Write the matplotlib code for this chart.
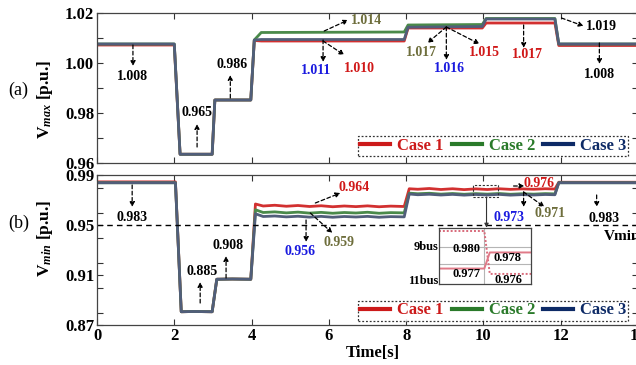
import matplotlib
matplotlib.use("Agg")
import matplotlib.pyplot as plt
from matplotlib.lines import Line2D
from matplotlib.patches import Rectangle
from matplotlib.ticker import MultipleLocator

plt.rcParams['font.family'] = ['Liberation Serif', 'DejaVu Serif']
plt.rcParams['mathtext.fontset'] = 'custom'
plt.rcParams['mathtext.it'] = 'Liberation Serif:italic:bold'
plt.rcParams['mathtext.rm'] = 'Liberation Serif:bold'
plt.rcParams['mathtext.bf'] = 'Liberation Serif:bold'

# ---------------- data ----------------
t_top = [0, 2.0, 2.15, 2.98, 3.05, 3.98, 4.07, 4.25, 7.95, 8.05, 9.97, 10.07, 11.85, 11.95, 14]
vmax_case1 = [1.0072, 1.0072, 0.9635, 0.9635, 0.9852, 0.9852, 1.0090, 1.0088, 1.0088, 1.0140, 1.0140, 1.0160, 1.0160, 1.0070, 1.0070]
vmax_case2 = [1.0076, 1.0076, 0.9635, 0.9635, 0.9852, 0.9852, 1.0092, 1.0122, 1.0124, 1.0152, 1.0154, 1.0178, 1.0178, 1.0076, 1.0076]
vmax_case3 = [1.0076, 1.0076, 0.9635, 0.9635, 0.9852, 0.9852, 1.0092, 1.0094, 1.0094, 1.0143, 1.0146, 1.0176, 1.0176, 1.0076, 1.0076]

t_bot = [0, 2.03, 2.18, 2.5, 2.98, 3.1, 3.5, 3.98,
         4.1, 4.3, 4.6, 4.9, 5.2, 5.5, 5.8, 6.1, 6.4, 6.7, 7.0, 7.3, 7.6, 7.95,
         8.08, 8.3, 8.6, 8.9, 9.2, 9.5, 9.8, 10.1, 10.4, 10.7, 11.0, 11.3, 11.6, 11.85,
         11.95, 14]
vmin_case1 = [0.9845, 0.9845, 0.8806, 0.8808, 0.8806, 0.9066, 0.9068, 0.9066,
              0.9668, 0.9652, 0.9658, 0.9650, 0.9656, 0.9648, 0.9654, 0.9646, 0.9652, 0.9647, 0.9653, 0.9646, 0.9651, 0.9648,
              0.9790, 0.9786, 0.9792, 0.9784, 0.9790, 0.9783, 0.9789, 0.9784, 0.9790, 0.9785, 0.9789, 0.9786, 0.9790, 0.9788,
              0.9842, 0.9842]
vmin_case2 = [0.9838, 0.9838, 0.8806, 0.8808, 0.8806, 0.9066, 0.9068, 0.9066,
              0.9622, 0.9600, 0.9605, 0.9597, 0.9603, 0.9595, 0.9601, 0.9594, 0.9600, 0.9596, 0.9602, 0.9594, 0.9599, 0.9597,
              0.9755, 0.9750, 0.9754, 0.9747, 0.9752, 0.9746, 0.9751, 0.9747, 0.9752, 0.9746, 0.9750, 0.9747, 0.9751, 0.9749,
              0.9838, 0.9838]
vmin_case3 = [0.9838, 0.9838, 0.8806, 0.8808, 0.8806, 0.9066, 0.9068, 0.9066,
              0.9590, 0.9568, 0.9572, 0.9565, 0.9570, 0.9563, 0.9569, 0.9562, 0.9568, 0.9564, 0.9569, 0.9562, 0.9567, 0.9565,
              0.9748, 0.9742, 0.9746, 0.9740, 0.9745, 0.9739, 0.9744, 0.9740, 0.9745, 0.9739, 0.9743, 0.9740, 0.9744, 0.9742,
              0.9838, 0.9838]

vmin_limit = 0.95

# inset (zoom of t = 9.72 .. 10.39)
t_inset = [9.72, 10.05, 10.09, 10.39]
bus9 = [0.9800, 0.9800, 0.9760, 0.9760]
bus11 = [0.9765, 0.9765, 0.9780, 0.9780]

case_labels = ['Case 1', 'Case 2', 'Case 3']
x_ticks = [0, 2, 4, 6, 8, 10, 12, 14]
top_yticks = [0.96, 0.98, 1.00, 1.02]
bot_yticks = [0.87, 0.91, 0.95, 0.99]

K, BL, OL, RD = 'black', '#1a1adf', '#6e6e3c', '#d01818'
# (text, colour, text position, arrow start, arrow end)
top_notes = [
    ("1.008", K, (0.93, 0.9948), (0.93, 1.0072), (0.93, 0.9988)),
    ("0.965", K, (2.59, 0.9800), (2.59, 0.9664), (2.59, 0.9756)),
    ("0.986", K, (3.50, 0.9996), (3.45, 0.9860), (3.45, 0.9952)),
    ("1.011", BL, (5.67, 0.9972), (5.85, 1.0092), (5.85, 1.0004)),
    ("1.010", RD, (6.79, 0.9980), (5.85, 1.0088), (6.40, 1.0032)),
    ("1.014", OL, (6.97, 1.0168), (5.88, 1.0128), (6.50, 1.0172)),
    ("1.017", OL, (8.39, 1.0040), (9.04, 1.0144), (8.55, 1.0080)),
    ("1.016", BL, (9.12, 0.9980), (9.04, 1.0144), (9.04, 1.0012)),
    ("1.015", RD, (10.03, 1.0044), (9.04, 1.0144), (9.90, 1.0076)),
    ("1.017", RD, (11.14, 1.0032), (11.04, 1.0152), (11.04, 1.0060)),
    ("1.019", K, (13.06, 1.0144), (12.02, 1.0180), (12.59, 1.0148)),
    ("1.008", K, (13.00, 0.9952), (13.00, 1.0080), (13.00, 0.9996)),
]
bot_notes = [
    ("0.983", K, (0.91, 0.9564), (0.91, 0.9820), (0.91, 0.9644)),
    ("0.885", K, (2.72, 0.9132), (2.67, 0.8876), (2.67, 0.9044)),
    ("0.908", K, (3.39, 0.9340), (3.34, 0.9076), (3.34, 0.9252)),
    ("0.956", BL, (5.26, 0.9292), (5.41, 0.9540), (5.41, 0.9364)),
    ("0.959", OL, (6.27, 0.9364), (5.52, 0.9596), (6.09, 0.9436)),
    ("0.964", RD, (6.66, 0.9804), (5.65, 0.9676), (6.30, 0.9756)),
    ("0.976", RD, (11.45, 0.9836), (10.78, 0.9812), (11.06, 0.9812)),
    ("0.973", BL, (10.67, 0.9564), (11.04, 0.9764), (11.04, 0.9644)),
    ("0.971", OL, (11.71, 0.9596), (11.04, 0.9764), (11.58, 0.9644)),
    ("0.983", K, (13.11, 0.9556), (12.93, 0.9740), (12.93, 0.9644)),
]

# ---------------- styling ----------------
line_cols = ['#d23030', '#4a8a4a', '#515e7a']
leg_cols = ['#cc1a1a', '#2a7a2a', '#0d2a66']
W, H = 636, 365
fig = plt.figure(figsize=(W / 100, H / 100), dpi=100)
left, right = 97, 638
ax1 = fig.add_axes([left / W, 1 - 163 / H, (right - left) / W, 150 / H])
ax2 = fig.add_axes([left / W, 1 - 325 / H, (right - left) / W, 150 / H])

tickfont = dict(family='Liberation Serif', weight='bold', size=12)
for ax in (ax1, ax2):
    ax.set_xlim(0, 14)
    ax.set_xticks(x_ticks)
    ax.tick_params(direction='in', top=True, right=True, length=4, width=0.8,
                   colors='#333333', labelcolor='black', pad=2)
    ax.tick_params(which='minor', direction='in', right=True, length=4, width=0.8, colors='#333333')
    for s in ax.spines.values():
        s.set_color('#444444')
        s.set_linewidth(0.9)

ax1.set_ylim(0.96, 1.02)
ax1.set_yticks(top_yticks)
ax1.yaxis.set_minor_locator(MultipleLocator(0.01))
ax1.set_yticklabels(['%.2f' % v for v in top_yticks], fontdict=tickfont)
ax1.set_xticklabels([])

ax2.set_ylim(0.87, 0.99)
ax2.set_yticks(bot_yticks)
ax2.yaxis.set_minor_locator(MultipleLocator(0.02))
ax2.set_yticklabels(['%.2f' % v for v in bot_yticks], fontdict=tickfont)
ax2.set_xticklabels([str(v) for v in x_ticks], fontdict=tickfont)

for vals, c in zip([vmax_case1, vmax_case2, vmax_case3], line_cols):
    ax1.plot(t_top, vals, color=c, lw=2.0)
for vals, c in zip([vmin_case1, vmin_case2, vmin_case3], line_cols):
    ax2.plot(t_bot, vals, color=c, lw=2.0)

ax2.axhline(vmin_limit, color='black', lw=1.0, ls=(0, (4, 3)))
ax2.text(13.11, 0.9412, 'Vmin', fontsize=11, fontweight='bold', ha='left', va='center')

arrow_kw = dict(arrowstyle='-|>', linestyle=(0, (3, 2)), color='black', lw=0.9,
                mutation_scale=7, shrinkA=0, shrinkB=0)
for ax, notes in ((ax1, top_notes), (ax2, bot_notes)):
    for txt, col, pos, a0, a1 in notes:
        ax.annotate('', xy=a1, xytext=a0, arrowprops=arrow_kw)
        ax.text(pos[0], pos[1], txt, color=col, fontsize=10, fontweight='bold',
                ha='center', va='center')

# legends
handles = [Line2D([], [], color=c, lw=3) for c in leg_cols]
for ax, y0 in ((ax1, 0.045), (ax2, 0.03)):
    leg = ax.legend(handles, case_labels, loc='lower right', bbox_to_anchor=(0.982, y0),
                    ncol=3, frameon=True, fancybox=False, handlelength=1.8,
                    columnspacing=0.5, handletextpad=0.4, borderpad=0.12,
                    borderaxespad=0, prop=dict(family='Liberation Serif', weight='bold', size=12))
    fr = leg.get_frame()
    fr.set_edgecolor('black')
    fr.set_linestyle((0, (1.5, 1.5)))
    fr.set_linewidth(0.9)
    for t, c in zip(leg.get_texts(), leg_cols):
        t.set_color(c)

# small zoom rectangle + connector
ax2.add_patch(Rectangle((9.72, 0.9724), 0.67, 0.0096, fill=False, ec='#333333',
                        lw=0.8, ls=(0, (2, 1.5)), zorder=5))
ax2.annotate('', xy=(10.08, 0.9478), xytext=(10.08, 0.9724),
             arrowprops=dict(arrowstyle='-|>', color='#333333', lw=0.8, mutation_scale=6,
                             shrinkA=0, shrinkB=0))

# inset
axi = fig.add_axes([439 / W, 1 - 284 / H, 92 / W, 56 / H])
axi.set_xlim(9.72, 10.39)
axi.set_ylim(0.97506, 0.98028)
axi.plot(t_inset, bus9, color='#d86a7a', lw=1.4, ls=(0, (1, 1)))
axi.plot(t_inset, bus11, color='#e07a88', lw=1.4)
axi.set_xticks([10.05])
axi.set_yticks([0.97694, 0.97851])
axi.grid(True, color='#b5b5b5', lw=0.8)
axi.tick_params(length=0, labelleft=False, labelbottom=False)
for s in axi.spines.values():
    s.set_color('#444444')
    s.set_linewidth(0.9)
ifont = dict(fontsize=9, fontweight='bold', ha='center', va='center', transform=axi.transAxes)
axi.text(0.30, 0.625, '0.980', **ifont)
axi.text(0.30, 0.18, '0.977', **ifont)
axi.text(0.75, 0.46, '0.978', **ifont)
axi.text(0.75, 0.07, '0.976', **ifont)
fig.text(438 / W, 1 - 247 / H, '9bus', fontsize=9, fontweight='bold', ha='right', va='center')
fig.text(438 / W, 1 - 281 / H, '11bus', fontsize=9, fontweight='bold', ha='right', va='center')

# labels
fig.text(45 / W, 1 - 99 / H, 'V$_{max}$ [p.u.]', rotation=90, ha='center', va='center',
         fontsize=12.5, fontweight='bold')
fig.text(45 / W, 1 - 238 / H, 'V$_{min}$ [p.u.]', rotation=90, ha='center', va='center',
         fontsize=12.5, fontweight='bold')
fig.text(18 / W, 1 - 90 / H, '(a)', ha='center', va='center', fontsize=13)
fig.text(19 / W, 1 - 223 / H, '(b)', ha='center', va='center', fontsize=13)
fig.text(373 / W, 1 - 353 / H, 'Time[s]', ha='center', va='center', fontsize=12, fontweight='bold')

fig.savefig('out.png', dpi=100)
